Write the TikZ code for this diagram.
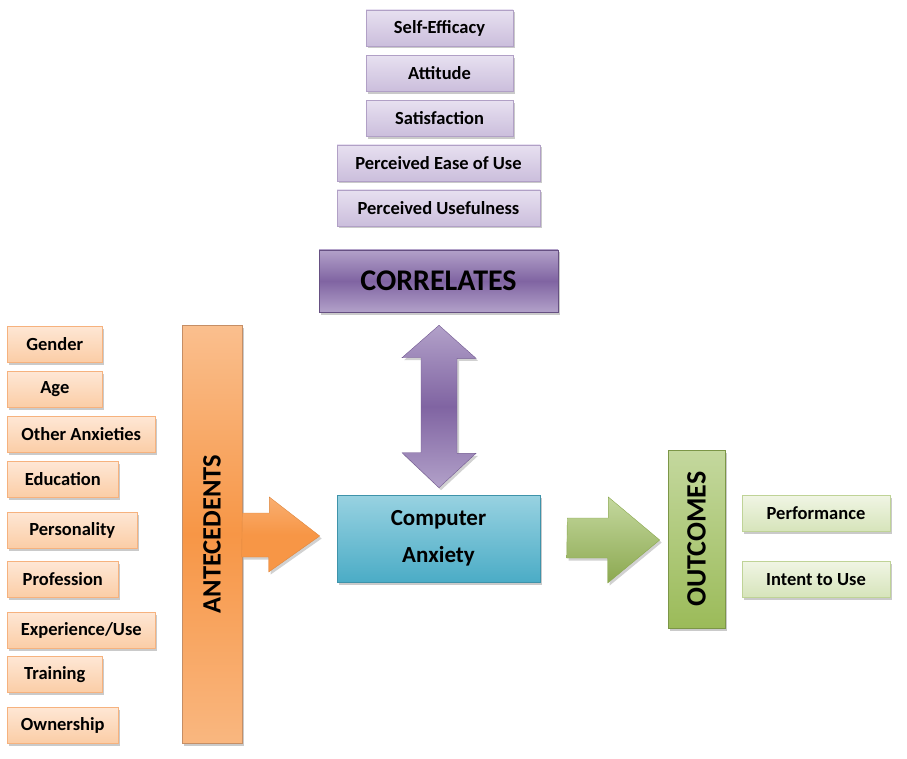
\documentclass[tikz,border=0pt]{standalone}
\usepackage{graphicx}
\usepackage{fontspec}
\setmainfont{Carlito}
\usetikzlibrary{calc,shadows}
\definecolor{orlight}{HTML}{FEE7D5}
\definecolor{ordark}{HTML}{FBCDA6}
\definecolor{orline}{HTML}{F6B27E}
\definecolor{ormain}{HTML}{F79646}
\definecolor{orbar}{HTML}{FABF8E}
\definecolor{pulight}{HTML}{E7E0F0}
\definecolor{pudark}{HTML}{CBBEDC}
\definecolor{puline}{HTML}{B1A0C6}
\definecolor{pumain}{HTML}{8064A2}
\definecolor{pubar}{HTML}{B2A1C9}
\definecolor{tllight}{HTML}{98D2E1}
\definecolor{tldark}{HTML}{4BACC6}
\definecolor{tlline}{HTML}{3F93AA}
\definecolor{grlight}{HTML}{F0F5E4}
\definecolor{grdark}{HTML}{D6E4BA}
\definecolor{grline}{HTML}{BFD397}
\definecolor{grmain}{HTML}{9BBB59}
\definecolor{grbar}{HTML}{C4D89E}
\tikzset{
	box/.style={
			rectangle, inner sep=0pt, line width=0.6pt, text=black,
			drop shadow={shadow xshift=2pt, shadow yshift=-2.5pt, opacity=0.35, fill=black!60}
		},
	smallbox/.style={box, minimum height=36pt, font=\fontsize{18.5}{22}\selectfont\bfseries},
	antebox/.style={smallbox, draw=orline, top color=orlight, bottom color=ordark},
	corrbox/.style={smallbox, draw=puline, top color=pulight, bottom color=pudark},
	outcbox/.style={smallbox, draw=grline, top color=grlight, bottom color=grdark},
	bigbar/.style={box, font=\fontsize{26.5}{30}\selectfont\bfseries}
}
\begin{document}
\begin{tikzpicture}[x=1pt, y=-1pt]
	\useasboundingbox (0,0) rectangle (907,759);

	% correlates
	\node[corrbox, minimum width=147pt] (c1) at (439.5,28) {Self-Efficacy};
	\node[corrbox, minimum width=147pt] (c2) at (439.5,73.5) {Attitude};
	\node[corrbox, minimum width=147pt] (c3) at (439.5,118.5) {Satisfaction};
	\node[corrbox, minimum width=203pt] (c4) at (438.5,163) {Perceived Ease of Use};
	\node[corrbox, minimum width=203pt] (c5) at (438.5,208) {Perceived Usefulness};
	\node[bigbar, minimum width=239pt, minimum height=62pt, draw=pumain!80!black,
		top color=pubar, bottom color=pubar, middle color=pumain,
		font=\fontsize{30}{34}\selectfont\bfseries] (corr) at (438.5,281) {CORRELATES};

	% antecedents
	\node[antebox, minimum width=95pt, anchor=west] (a1) at (7,344) {Gender};
	\node[antebox, minimum width=95pt, anchor=west] (a2) at (7,389.5) {Age};
	\node[antebox, minimum width=148pt, anchor=west] (a3) at (7,434.5) {Other Anxieties};
	\node[antebox, minimum width=111pt, anchor=west] (a4) at (7,479.5) {Education};
	\node[antebox, minimum width=130pt, anchor=west] (a5) at (7,530) {Personality};
	\node[antebox, minimum width=111pt, anchor=west] (a6) at (7,579.5) {Profession};
	\node[antebox, minimum width=148pt, anchor=west] (a7) at (7,630) {Experience/Use};
	\node[antebox, minimum width=95pt, anchor=west] (a8) at (7,674.5) {Training};
	\node[antebox, minimum width=111pt, anchor=west] (a9) at (7,725) {Ownership};
	\node[bigbar, minimum width=60pt, minimum height=418pt, draw=orline!80!black,
		top color=orbar, bottom color=orbar!80!ormain, middle color=ormain] (ante) at (212,534) {\rotatebox{90}{ANTECEDENTS}};

	% centre
	\node[box, minimum width=203pt, minimum height=87pt, draw=tlline, top color=tllight, bottom color=tldark,
		align=center, font=\fontsize{23}{37}\selectfont\bfseries] (ca) at (438.5,538.5) {Computer\\Anxiety};

	% outcomes
	\node[bigbar, minimum width=57pt, minimum height=178pt, draw=grmain!80!black,
		top color=grbar, bottom color=grmain, font=\fontsize{28}{30}\selectfont\bfseries] (outc) at (696.5,539) {\rotatebox{90}{OUTCOMES}};
	\node[outcbox, minimum width=148pt] (o1) at (816,513.5) {Performance};
	\node[outcbox, minimum width=148pt] (o2) at (816,579.5) {Intent to Use};

	% block arrows
	\path[top color=orbar!60!ormain, bottom color=ormain, middle color=ormain, draw=ormain!90!black, line width=0.4pt,
		drop shadow={shadow xshift=2pt, shadow yshift=-2.5pt, opacity=0.3, fill=black!60}]
		($(ante.east)+(0,-21)$) -- ++(27,0) -- ++(0,-16) -- ($(ca.west)+(-17,-2.5)$)
		-- ++(-51,36) -- ++(0,-15) -- ++(-27,0) -- cycle;
	\path[top color=grbar, bottom color=grmain!90!black, draw=grmain!90!black, line width=0.4pt,
		drop shadow={shadow xshift=2pt, shadow yshift=-2.5pt, opacity=0.3, fill=black!60}]
		($(ca.east)+(27,-20.5)$) -- ++(41,0) -- ++(0,-21) -- ($(outc.west)+(-8,1)$)
		-- ++(-52,43) -- ++(0,-25) -- ++(-41,0) -- cycle;
	\path[top color=pubar, bottom color=pubar, middle color=pumain, draw=pumain!90!black, line width=0.4pt,
		drop shadow={shadow xshift=2pt, shadow yshift=-2.5pt, opacity=0.3, fill=black!60}]
		($(corr.south)+(0.5,13)$) -- ++(37,33) -- ++(-19,0) -- ++(0,95) -- ++(19,0)
		-- ($(ca.north)+(0.5,-7)$) -- ++(-37,-35) -- ++(19,0) -- ++(0,-95) -- ++(-19,0) -- cycle;
\end{tikzpicture}
\end{document}
